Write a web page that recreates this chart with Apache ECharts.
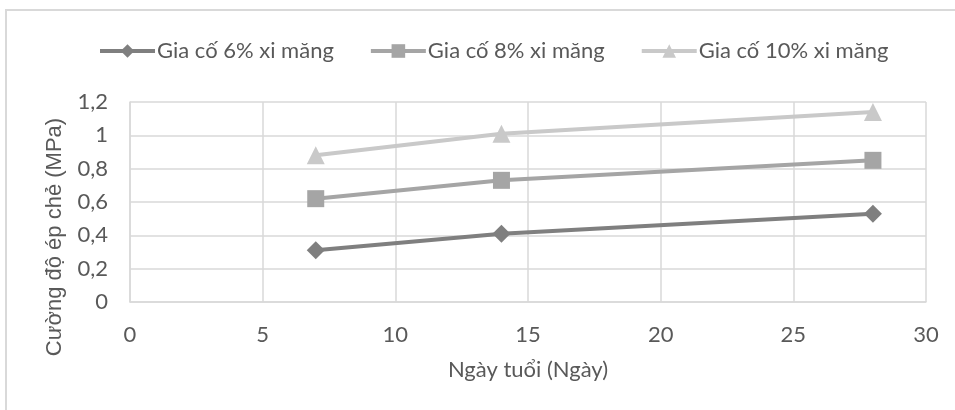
<!DOCTYPE html>
<html><head><meta charset="utf-8">
<script src="https://cdn.jsdelivr.net/npm/echarts@6/dist/echarts.min.js"></script>
<style>html,body{margin:0;padding:0;background:#fff}#c{width:955px;height:410px}</style>
</head><body><div id="c"></div>
<script>
const days = [7, 14, 28];
const s6 = [0.31, 0.41, 0.53];
const s8 = [0.62, 0.73, 0.85];
const s10 = [0.88, 1.01, 1.14];
const seriesNames = ['Gia cố 6% xi măng', 'Gia cố 8% xi măng', 'Gia cố 10% xi măng'];
const xTitle = 'Ngày tuổi (Ngày)';
const yTitle = 'Cường độ ép chẻ (MPa)';

const font = 'Lato';
const textColor = '#595959';
const grid = {left: 130, right: 29, top: 102, bottom: 108};
const chart = echarts.init(document.getElementById('c'));
const pair = (ys) => days.map((d, i) => [d, ys[i]]);
chart.setOption({
  animation: false,
  backgroundColor: '#fff',
  grid: grid,
  legend: {
    left: 93, top: 35,
    itemWidth: 55, itemHeight: 17, itemGap: 35,
    lineStyle: {width: 4},
    textStyle: {fontFamily: font, fontSize: 22, color: textColor, padding: [0, 0, 0, -3]},
    data: seriesNames
  },
  xAxis: {
    type: 'value', min: 0, max: 30, interval: 5,
    axisLine: {show: true, lineStyle: {color: '#d9d9d9', width: 1.5}},
    axisTick: {show: false},
    splitLine: {show: true, lineStyle: {color: '#d9d9d9', width: 1.5}},
    axisLabel: {fontFamily: font, fontSize: 22, color: textColor, margin: 22},
    name: xTitle, nameLocation: 'middle', nameGap: 57,
    nameTextStyle: {fontFamily: font, fontSize: 22, color: textColor}
  },
  yAxis: {
    type: 'value', min: 0, max: 1.2, interval: 0.2,
    axisLine: {show: true, lineStyle: {color: '#d9d9d9', width: 1.5}},
    axisTick: {show: false},
    splitLine: {show: true, lineStyle: {color: '#d9d9d9', width: 1.5}},
    axisLabel: {fontFamily: font, fontSize: 22, color: textColor, margin: 22,
      formatter: v => String(Math.round(v * 10) / 10).replace('.', ',')}
  },
  graphic: [
    {type: 'rect', shape: {x: 6, y: 10, width: 960, height: 420}, style: {fill: 'none', stroke: '#d9d9d9', lineWidth: 2}, silent: true},
    {type: 'text', x: 55, y: 237, rotation: Math.PI / 2,
      style: {text: yTitle, fontFamily: 'Liberation Sans', fontSize: 22, fill: textColor, align: 'center', verticalAlign: 'middle'}}
  ],
  series: [
    {name: seriesNames[0], type: 'line', data: pair(s6), symbol: 'diamond', symbolSize: 18,
      lineStyle: {color: '#7f7f7f', width: 4}, itemStyle: {color: '#7f7f7f'}},
    {name: seriesNames[1], type: 'line', data: pair(s8), symbol: 'rect', symbolSize: 17,
      lineStyle: {color: '#a5a5a5', width: 4}, itemStyle: {color: '#a5a5a5'}},
    {name: seriesNames[2], type: 'line', data: pair(s10), symbol: 'triangle', symbolSize: 18,
      lineStyle: {color: '#c9c9c9', width: 4}, itemStyle: {color: '#c9c9c9'}}
  ]
});
</script></body></html>
